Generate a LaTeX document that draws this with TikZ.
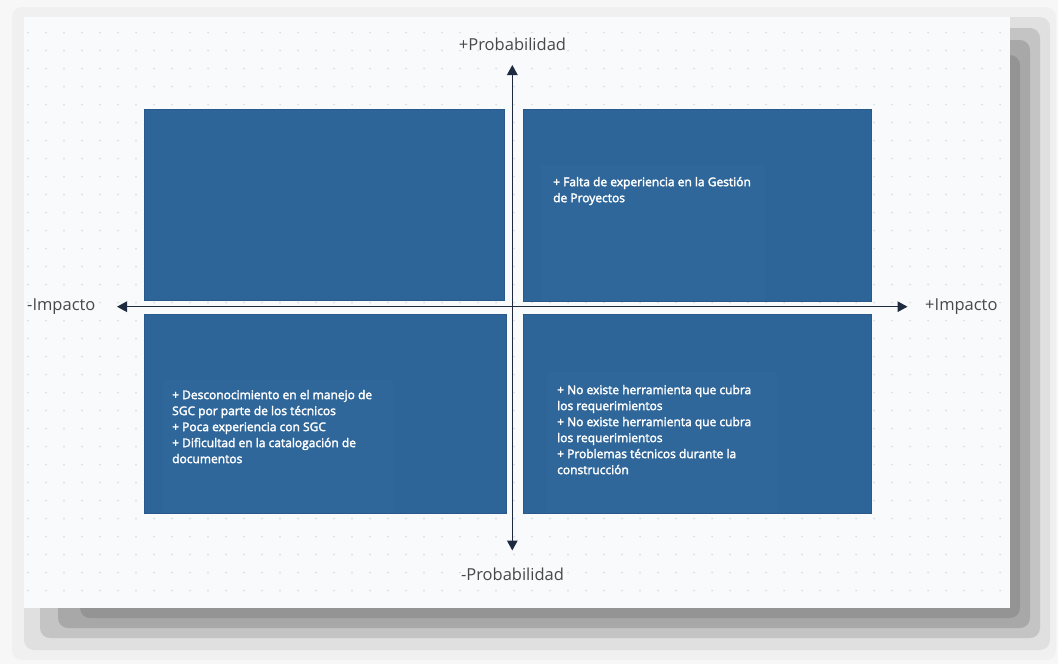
\documentclass[tikz,border=0pt]{standalone}
\usepackage{fontspec}
\setmainfont{Open Sans}
\newfontfamily\notefont[FakeBold=2.5]{Open Sans}
\usetikzlibrary{arrows.meta, positioning}
\definecolor{canvas}{HTML}{F9FAFB}
\definecolor{griddot}{HTML}{DDDEE3}
\definecolor{quadfill}{HTML}{2E6598}
\definecolor{quadedge}{HTML}{28598A}
\definecolor{notefill}{HTML}{30679A}
\definecolor{axisline}{HTML}{1E2A40}
\definecolor{labelgray}{HTML}{484848}
\tikzset{
    quadrant/.style={draw=quadedge, fill=quadfill, line width=0.8pt},
    notetext/.style={anchor=north west, text=white, align=left, inner sep=0pt,
        font=\notefont\fontsize{12}{16}\selectfont, execute at begin node=\strut},
    axis/.style={draw=axisline, line width=1.5pt,
        {Triangle[length=10pt,width=10.5pt]}-{Triangle[length=10pt,width=10.5pt]}},
    axislabel/.style={text=labelgray, inner sep=0pt, font=\fontsize{16.5}{18}\selectfont},
    shadowband/.style={rounded corners=10pt}
}

\begin{document}
\begin{tikzpicture}[x=1pt, y=-1pt]
    \useasboundingbox (0,0) rectangle (1058,664);
    % soft shadow and canvas
    \fill[white!97!black] (0,0) rectangle (1058,664);
    \fill[white!94!black, shadowband] (12,7) rectangle (1056,660);
    \fill[white!88!black, shadowband] (24,17) rectangle (1050,650);
    \fill[white!77!black, shadowband] (40,28) rectangle (1040,638);
    \fill[white!66!black, shadowband] (58,40) rectangle (1030,628);
    \fill[white!58!black, shadowband] (80,55) rectangle (1020,618);
    \fill[canvas] (24,17) rectangle (1010,608);
    \foreach \i in {0,...,54}
        \foreach \j in {0,...,31}
            \fill[griddot] (28+18*\i, 32.5+18*\j) circle (1pt);

    % quadrants
    \draw[quadrant] (144,109) rectangle (504,300);
    \draw[quadrant] (523,109) rectangle (871,301);
    \draw[quadrant] (144,314) rectangle (506,513);
    \draw[quadrant] (523,314) rectangle (871,513);
    \fill[notefill] (541,165) rectangle (765,300.5);
    \fill[notefill] (163,380) rectangle (393,512.5);
    \fill[notefill] (547,372) rectangle (777,512.5);

    \node[notetext] (highrisk) at (553,176.8)
        {+ Falta de experiencia en la Gestión\\de Proyectos};
    \node[notetext] (lowprob) at (172,389.8)
        {+ Desconocimiento en el manejo de\\SGC por parte de los técnicos\\+ Poca experiencia con SGC\\+ Dificultad en la catalogación de\\documentos};
    \node[notetext] (highimpact) at (557,384.8)
        {+ No existe herramienta que cubra\\los requerimientos\\+ No existe herramienta que cubra\\los requerimientos\\+ Problemas técnicos durante la\\construcción};

    % axes
    \coordinate (top) at (512.3,65);
    \coordinate (bottom) at (512.3,550.5);
    \coordinate (left) at (117,306.7);
    \coordinate (right) at (907.5,306.7);
    \draw[axis] (bottom) -- (top);
    \draw[axis] (left) -- (right);

    \node[axislabel, anchor=base] (probup) at (512.5,50.7) {+Probabilidad};
    \node[axislabel, anchor=base] (probdown) at (512.5,580) {-Probabilidad};
    \node[axislabel, anchor=base west] (impminus) at (27,310.7) {-Impacto};
    \node[axislabel, anchor=base west] (impplus) at (925,310.7) {+Impacto};
\end{tikzpicture}
\end{document}
